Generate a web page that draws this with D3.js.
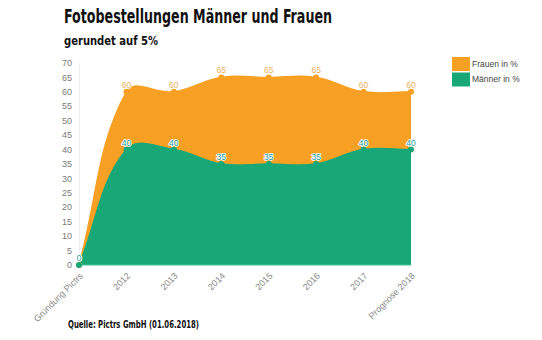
<!DOCTYPE html>
<html>
<head>
<meta charset="utf-8">
<script src="https://cdn.jsdelivr.net/npm/d3@7"></script>
<style>
  html, body { margin: 0; padding: 0; background: #fff; }
  svg { display: block; }
</style>
</head>
<body>
<svg id="chart" width="542" height="340"></svg>
<script>
const categories = ["Gründung Pictrs", "2012", "2013", "2014", "2015", "2016", "2017", "Prognose 2018"];
const frauen = [0, 60, 60, 65, 65, 65, 60, 60];
const maenner = [0, 40, 40, 35, 35, 35, 40, 40];
const yTicks = [0, 5, 10, 15, 20, 25, 30, 35, 40, 45, 50, 55, 60, 65, 70];
const seriesNames = ["Frauen in %", "Männer in %"];
const titleText = "Fotobestellungen Männer und Frauen";
const subtitleText = "gerundet auf 5%";
const sourceText = "Quelle: Pictrs GmbH (01.06.2018)";

const ORANGE = "#F8A024";
const GREEN = "#18A878";
const ORANGE_LABEL = "#E9B25E";
const GREEN_LABEL = "#1B9C9E";

const svg = d3.select("#chart");
const x = d3.scalePoint().domain(categories).range([79, 411]);
const y = d3.scaleLinear().domain([0, 70]).range([265, 63]);

// Spline with tension 0.4 (distance-weighted control points)
function splinePath(pts, tension, closeToY) {
  const p = d3.path();
  const cps = pts.map((cur, i) => {
    const prev = pts[i - 1] || cur;
    const next = pts[i + 1] || cur;
    const d01 = Math.hypot(cur[0] - prev[0], cur[1] - prev[1]);
    const d12 = Math.hypot(next[0] - cur[0], next[1] - cur[1]);
    let s01 = d01 / (d01 + d12), s12 = d12 / (d01 + d12);
    if (!isFinite(s01)) s01 = 0;
    if (!isFinite(s12)) s12 = 0;
    const fa = tension * s01, fb = tension * s12;
    const clampY = v => Math.max(y(70), Math.min(y(0), v));
    return {
      prev: [cur[0] - fa * (next[0] - prev[0]), clampY(cur[1] - fa * (next[1] - prev[1]))],
      next: [cur[0] + fb * (next[0] - prev[0]), clampY(cur[1] + fb * (next[1] - prev[1]))]
    };
  });
  p.moveTo(pts[0][0], pts[0][1]);
  for (let i = 1; i < pts.length; i++) {
    const a = cps[i - 1].next, b = cps[i].prev;
    p.bezierCurveTo(a[0], a[1], b[0], b[1], pts[i][0], pts[i][1]);
  }
  if (closeToY !== undefined) {
    p.lineTo(pts[pts.length - 1][0], closeToY);
    p.lineTo(pts[0][0], closeToY);
    p.closePath();
  }
  return p.toString();
}

// y axis faint line
svg.append("line").attr("x1", 79.5).attr("x2", 79.5).attr("y1", y(70)).attr("y2", y(0))
  .attr("stroke", "#eeeeee").attr("stroke-width", 1);

// y tick labels
svg.append("g").selectAll("text").data(yTicks).join("text")
  .attr("x", 72).attr("y", d => y(d)).attr("dy", "0.35em")
  .attr("text-anchor", "end")
  .attr("font-family", "Liberation Sans, Arial, sans-serif")
  .attr("font-size", 9).attr("fill", "#7a7a7a")
  .text(d => d);

const seriesData = [
  { name: seriesNames[0], values: frauen, color: ORANGE, labelColor: ORANGE_LABEL },
  { name: seriesNames[1], values: maenner, color: GREEN, labelColor: GREEN_LABEL }
];

seriesData.forEach(s => {
  const pts = s.values.map((v, i) => [x(categories[i]), y(v)]);
  svg.append("path").attr("d", splinePath(pts, 0.4, y(0))).attr("fill", s.color);
  svg.append("path").attr("d", splinePath(pts, 0.4)).attr("fill", "none")
    .attr("stroke", s.color).attr("stroke-width", 1.5);
});

// baseline
svg.append("line").attr("x1", x(categories[0])).attr("x2", x(categories[categories.length - 1]))
  .attr("y1", y(0)).attr("y2", y(0)).attr("stroke", "#3fc69a").attr("stroke-width", 1);

// points
seriesData.forEach(s => {
  svg.append("g").selectAll("circle").data(s.values).join("circle")
    .attr("cx", (d, i) => x(categories[i]))
    .attr("cy", d => y(d))
    .attr("r", 3)
    .attr("fill", s.color);
});

// value labels
seriesData.forEach(s => {
  svg.append("g").selectAll("text").data(s.values).join("text")
    .attr("x", (d, i) => x(categories[i]))
    .attr("y", d => y(d) - 4)
    .attr("text-anchor", "middle")
    .attr("font-family", "Liberation Sans, Arial, sans-serif")
    .attr("font-size", 8.5)
    .attr("fill", s.labelColor)
    .attr("stroke", "#ffffff").attr("stroke-width", 1.6)
    .attr("paint-order", "stroke")
    .text(d => d);
});

// x labels
svg.append("g").selectAll("text").data(categories).join("text")
  .attr("transform", d => `translate(${x(d)},${272}) rotate(-45)`)
  .attr("text-anchor", "end")
  .attr("dy", "0.7em")
  .attr("font-family", "Liberation Sans, Arial, sans-serif")
  .attr("font-size", 9).attr("fill", "#888888")
  .text(d => d);

// legend
const legend = svg.append("g");
seriesData.forEach((s, i) => {
  legend.append("rect").attr("x", 452).attr("y", 57 + i * 15.5).attr("width", 18).attr("height", 14)
    .attr("fill", s.color);
  legend.append("text").attr("x", 472).attr("y", 64 + i * 15.5).attr("dy", "0.35em")
    .attr("font-family", "Liberation Sans, Arial, sans-serif")
    .attr("font-size", 8.5).attr("fill", "#444")
    .text(s.name);
});

// title, subtitle, source
svg.append("text").attr("x", 64).attr("y", 23)
  .attr("font-family", "DejaVu Sans Condensed, DejaVu Sans, sans-serif")
  .attr("font-weight", "bold").attr("font-size", 19)
  .attr("textLength", 268).attr("lengthAdjust", "spacingAndGlyphs")
  .attr("fill", "#111").text(titleText);
svg.append("text").attr("x", 64).attr("y", 45)
  .attr("font-family", "DejaVu Sans Condensed, DejaVu Sans, sans-serif")
  .attr("font-weight", "bold").attr("font-size", 12.5)
  .attr("textLength", 94).attr("lengthAdjust", "spacingAndGlyphs")
  .attr("fill", "#111").text(subtitleText);
svg.append("text").attr("x", 68).attr("y", 328)
  .attr("font-family", "DejaVu Sans Condensed, DejaVu Sans, sans-serif")
  .attr("font-weight", "bold").attr("font-size", 10)
  .attr("textLength", 131).attr("lengthAdjust", "spacingAndGlyphs")
  .attr("fill", "#111").text(sourceText);
</script>
</body>
</html>
